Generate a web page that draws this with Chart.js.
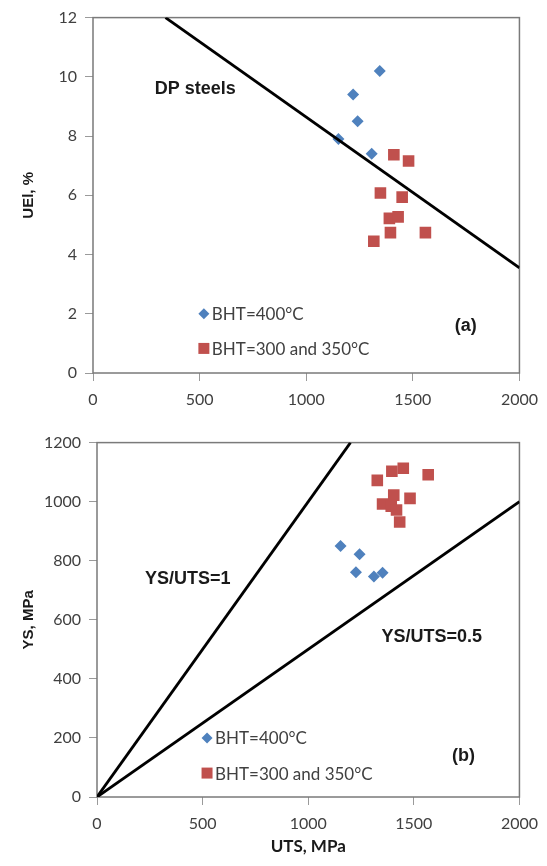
<!DOCTYPE html>
<html>
<head>
<meta charset="utf-8">
<script src="https://cdn.jsdelivr.net/npm/chart.js@4/dist/chart.umd.min.js"></script>
<style>
  html, body { margin: 0; padding: 0; background: #fff; }
  #wrap { position: relative; width: 547px; height: 866px; }
  canvas { position: absolute; left: 0; }
</style>
</head>
<body>
<div id="wrap">
  <canvas id="uelChart" width="547" height="425" style="top:0"></canvas>
  <canvas id="ysChart" width="547" height="441" style="top:425px"></canvas>
</div>
<script>
// tick labels
const utsTicks = [0, 500, 1000, 1500, 2000];
const uelTicks = [0, 2, 4, 6, 8, 10, 12];
const ysTicks = [0, 200, 400, 600, 800, 1000, 1200];

// (a) UEl vs UTS
const utsA400 = [1151, 1220, 1241, 1307, 1345];
const uelA400 = [7.9, 9.4, 8.5, 7.4, 10.2];
const utsA300 = [1411, 1480, 1348, 1450, 1390, 1431, 1395, 1559, 1317];
const uelA300 = [7.37, 7.16, 6.08, 5.94, 5.22, 5.27, 4.74, 4.74, 4.45];
const dpLineUts = [340, 2000];
const dpLineUel = [12, 3.55];

// (b) YS vs UTS
const utsB400 = [1153, 1243, 1226, 1311, 1352];
const ysB400 = [850, 822, 761, 747, 759];
const utsB300 = [1327, 1396, 1450, 1568, 1405, 1482, 1352, 1393, 1418, 1433];
const ysB300 = [1072, 1103, 1113, 1091, 1022, 1011, 992, 985, 972, 931];
const ratio1Uts = [0, 1200];
const ratio1Ys = [0, 1200];
const ratio05Uts = [0, 2000];
const ratio05Ys = [0, 1000];

const BLUE = '#4f81bd';
const RED = '#c0504d';
const TICK_FONT = { family: 'Lato, "Open Sans", sans-serif', size: 16 };
const BOLD = 'bold 18px "Liberation Sans", Arial, sans-serif';

const pts = (xs, ys) => xs.map((x, i) => ({ x: x, y: ys[i] }));

// frame box, text notes and in-plot legend
const extrasPlugin = {
  id: 'extras',
  beforeDatasetsDraw(chart) {
    const { ctx, chartArea: a } = chart;
    ctx.save();
    ctx.strokeStyle = '#7a7a7a';
    ctx.lineWidth = 1.5;
    ctx.strokeRect(a.left, a.top, a.right - a.left, a.bottom - a.top);
    ctx.restore();
  },
  afterDraw(chart, args, opts) {
    const { ctx, scales } = chart;
    const sx = scales.x, sy = scales.y;
    ctx.save();
    ctx.textBaseline = 'middle';
    (opts.notes || []).forEach(n => {
      ctx.font = BOLD;
      ctx.fillStyle = '#1a1a1a';
      ctx.textAlign = 'center';
      ctx.fillText(n.text, sx.getPixelForValue(n.x), sy.getPixelForValue(n.y));
    });
    (opts.legend || []).forEach(l => {
      const px = sx.getPixelForValue(l.x), py = sy.getPixelForValue(l.y);
      ctx.fillStyle = l.color;
      ctx.beginPath();
      if (l.style === 'rectRot') {
        ctx.moveTo(px, py - 5.5); ctx.lineTo(px + 5.5, py); ctx.lineTo(px, py + 5.5); ctx.lineTo(px - 5.5, py);
      } else {
        ctx.rect(px - 5.5, py - 5.5, 11, 11);
      }
      ctx.closePath();
      ctx.fill();
      ctx.fillStyle = '#404040';
      ctx.textAlign = 'left';
      ctx.font = '17px Lato, "Open Sans", sans-serif';
      ctx.fillText(l.text, px + 8, py + 1);
    });
    ctx.restore();
  }
};

function axis(ticks, min, max, fitSize, horizontal, title) {
  return {
    type: 'linear',
    min: min,
    max: max,
    afterBuildTicks: s => { s.ticks = ticks.map(v => ({ value: v })); },
    afterFit: s => { if (horizontal) s.height = fitSize; else s.width = fitSize; },
    grid: { drawOnChartArea: false, drawTicks: true, tickLength: 8, color: '#9a9a9a', lineWidth: 1 },
    border: { display: false },
    ticks: {
      font: TICK_FONT, color: '#404040', padding: horizontal ? 9 : 8, maxRotation: 0,
      callback: v => String(v)
    },
    title: title
  };
}

function baseOptions(padTop, padRight, xFit, yFit, xTitle, yTitle, yMin, yMax, yTicks, extras) {
  return {
    responsive: false,
    animation: false,
    events: [],
    layout: { padding: { top: padTop, right: padRight, left: 0, bottom: 0 } },
    plugins: { legend: { display: false }, tooltip: { enabled: false }, extras: extras },
    scales: {
      x: axis(utsTicks, 0, 2000, xFit, true, xTitle),
      y: axis(yTicks, yMin, yMax, yFit, false, yTitle)
    }
  };
}

new Chart(document.getElementById('uelChart'), {
  type: 'scatter',
  data: {
    datasets: [
      { data: pts(dpLineUts, dpLineUel), showLine: true, borderColor: '#000', borderWidth: 2.8, pointRadius: 0 },
      { label: 'BHT=400°C', data: pts(utsA400, uelA400), pointStyle: 'rectRot', pointRadius: 6, backgroundColor: BLUE, borderWidth: 0 },
      { label: 'BHT=300 and 350°C', data: pts(utsA300, uelA300), pointStyle: 'rect', pointRadius: 8.2, backgroundColor: RED, borderWidth: 0 }
    ]
  },
  options: baseOptions(15, 24, 52, 93,
    { display: false },
    { display: true, text: 'UEl, %', font: { family: '"Liberation Sans", Arial, sans-serif', size: 15, weight: 'bold' }, color: '#1a1a1a', padding: { top: 20 } },
    0, 12, uelTicks,
    {
      notes: [{ text: 'DP steels', x: 480, y: 9.6 }, { text: '(a)', x: 1748, y: 1.6 }],
      legend: [
        { style: 'rectRot', color: BLUE, text: 'BHT=400°C', x: 520, y: 2.0 },
        { style: 'rect', color: RED, text: 'BHT=300 and 350°C', x: 520, y: 0.83 }
      ]
    }),
  plugins: [extrasPlugin]
});

new Chart(document.getElementById('ysChart'), {
  type: 'scatter',
  data: {
    datasets: [
      { data: pts(ratio1Uts, ratio1Ys), showLine: true, borderColor: '#000', borderWidth: 2.8, pointRadius: 0 },
      { data: pts(ratio05Uts, ratio05Ys), showLine: true, borderColor: '#000', borderWidth: 2.8, pointRadius: 0 },
      { label: 'BHT=400°C', data: pts(utsB400, ysB400), pointStyle: 'rectRot', pointRadius: 6, backgroundColor: BLUE, borderWidth: 0 },
      { label: 'BHT=300 and 350°C', data: pts(utsB300, ysB300), pointStyle: 'rect', pointRadius: 8.2, backgroundColor: RED, borderWidth: 0 }
    ]
  },
  options: baseOptions(13, 20, 69, 97,
    { display: true, text: 'UTS, MPa', font: { family: 'Lato, "Open Sans", sans-serif', size: 17, weight: 'bold' }, color: '#1a1a1a', padding: { bottom: 9 } },
    { display: true, text: 'YS, MPa', font: { family: '"Liberation Sans", Arial, sans-serif', size: 15, weight: 'bold' }, color: '#1a1a1a', padding: { top: 20 } },
    0, 1200, ysTicks,
    {
      notes: [{ text: 'YS/UTS=1', x: 430, y: 739 }, { text: 'YS/UTS=0.5', x: 1585, y: 540 }, { text: '(b)', x: 1735, y: 138 }],
      legend: [
        { style: 'rectRot', color: BLUE, text: 'BHT=400°C', x: 521, y: 200 },
        { style: 'rect', color: RED, text: 'BHT=300 and 350°C', x: 521, y: 81 }
      ]
    }),
  plugins: [extrasPlugin]
});
</script>
</body>
</html>
